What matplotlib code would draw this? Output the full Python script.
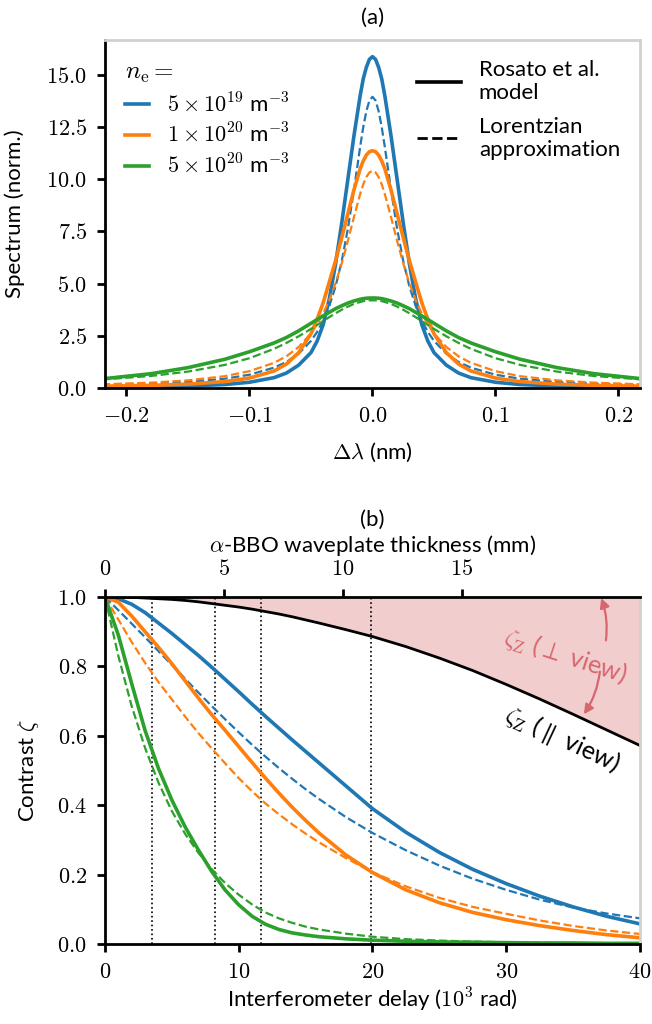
import matplotlib
matplotlib.use('Agg')
import matplotlib.pyplot as plt
from matplotlib.lines import Line2D
from matplotlib.ticker import FuncFormatter

# --- (a) line profiles ---
dlam = [-0.22, -0.18, -0.15, -0.12, -0.10, -0.08, -0.07, -0.06, -0.05, -0.045,
        -0.04, -0.035, -0.03, -0.025, -0.02, -0.015, -0.01, -0.0075, -0.005,
        -0.0025, 0.0, 0.0025, 0.005, 0.0075, 0.01, 0.015, 0.02, 0.025, 0.03,
        0.035, 0.04, 0.045, 0.05, 0.06, 0.07, 0.08, 0.10, 0.12, 0.15, 0.18, 0.22]

blue_model = [0.04, 0.06, 0.10, 0.17, 0.28, 0.50, 0.72, 1.10, 1.70, 2.25,
              3.05, 4.30, 5.95, 7.90, 10.0, 12.1, 14.0, 14.8, 15.35, 15.73,
              15.86,
              15.73, 15.35, 14.8, 14.0, 12.1, 10.0, 7.90, 5.95, 4.30, 3.05,
              2.25, 1.70, 1.10, 0.72, 0.50, 0.28, 0.17, 0.10, 0.06, 0.04]
blue_lor = [0.14, 0.21, 0.29, 0.45, 0.64, 0.98, 1.25, 1.65, 2.26, 2.69,
            3.24, 3.95, 4.87, 6.08, 7.63, 9.52, 11.55, 12.49, 13.25, 13.76,
            13.94,
            13.76, 13.25, 12.49, 11.55, 9.52, 7.63, 6.08, 4.87, 3.95, 3.24,
            2.69, 2.26, 1.65, 1.25, 0.98, 0.64, 0.45, 0.29, 0.21, 0.14]
orange_model = [0.09, 0.13, 0.19, 0.31, 0.48, 0.82, 1.15, 1.70, 2.60, 3.30,
                4.10, 5.10, 6.10, 7.20, 8.35, 9.50, 10.5, 10.87, 11.15, 11.31,
                11.36,
                11.31, 11.15, 10.87, 10.5, 9.50, 8.35, 7.20, 6.10, 5.10, 4.10,
                3.30, 2.60, 1.70, 1.15, 0.82, 0.48, 0.31, 0.19, 0.13, 0.09]
orange_lor = [0.18, 0.26, 0.37, 0.57, 0.81, 1.21, 1.52, 1.97, 2.62, 3.05,
              3.58, 4.23, 5.02, 5.97, 7.05, 8.20, 9.29, 9.75, 10.10, 10.32,
              10.40,
              10.32, 10.10, 9.75, 9.29, 8.20, 7.05, 5.97, 5.02, 4.23, 3.58,
              3.05, 2.62, 1.97, 1.52, 1.21, 0.81, 0.57, 0.37, 0.26, 0.18]
green_model = [0.44, 0.69, 0.98, 1.38, 1.74, 2.16, 2.42, 2.74, 3.10, 3.28,
               3.46, 3.63, 3.80, 3.94, 4.07, 4.17, 4.25, 4.28, 4.30, 4.31,
               4.31,
               4.31, 4.30, 4.28, 4.25, 4.17, 4.07, 3.94, 3.80, 3.63, 3.46,
               3.28, 3.10, 2.74, 2.42, 2.16, 1.74, 1.38, 0.98, 0.69, 0.44]
green_lor = [0.41, 0.58, 0.79, 1.11, 1.43, 1.88, 2.16, 2.48, 2.83, 3.02,
             3.21, 3.40, 3.58, 3.75, 3.90, 4.03, 4.12, 4.16, 4.18, 4.20,
             4.20,
             4.20, 4.18, 4.16, 4.12, 4.03, 3.90, 3.75, 3.58, 3.40, 3.21,
             3.02, 2.83, 2.48, 2.16, 1.88, 1.43, 1.11, 0.79, 0.58, 0.41]

dens_labels = [r'$5\times10^{19}$ m$^{-3}$', r'$1\times10^{20}$ m$^{-3}$',
               r'$5\times10^{20}$ m$^{-3}$']

# --- (b) contrast vs delay (10^3 rad) ---
delay = [0, 1, 2, 3, 4, 5, 6, 7, 8, 9, 10, 11, 12, 13, 14, 15, 16, 18, 20,
         22.5, 25, 27.5, 30, 32.5, 35, 37.5, 40]
zeta_z = [1.0, 1.0, 0.999, 0.997, 0.995, 0.993, 0.990, 0.986, 0.981, 0.976,
          0.971, 0.965, 0.958, 0.951, 0.943, 0.934, 0.925, 0.906, 0.886,
          0.857, 0.824, 0.788, 0.748, 0.706, 0.662, 0.617, 0.572]
blue_c = [1.0, 0.995, 0.979, 0.955, 0.925, 0.895, 0.863, 0.831, 0.797, 0.762,
          0.727, 0.691, 0.656, 0.622, 0.588, 0.555, 0.522, 0.456, 0.39,
          0.322, 0.264, 0.215, 0.174, 0.138, 0.107, 0.08, 0.058]
blue_c_lor = [1.0, 0.962, 0.923, 0.884, 0.844, 0.804, 0.764, 0.724, 0.685,
              0.647, 0.61, 0.574, 0.54, 0.507, 0.476, 0.446, 0.418, 0.366,
              0.32, 0.27, 0.226, 0.188, 0.156, 0.128, 0.105, 0.088, 0.074]
orange_c = [1.0, 0.985, 0.945, 0.90, 0.855, 0.808, 0.758, 0.708, 0.66, 0.615,
            0.569, 0.523, 0.478, 0.435, 0.394, 0.356, 0.32, 0.257, 0.206,
            0.156, 0.119, 0.091, 0.07, 0.053, 0.039, 0.027, 0.018]
orange_c_lor = [1.0, 0.935, 0.87, 0.81, 0.755, 0.705, 0.655, 0.607, 0.563,
                0.52, 0.478, 0.44, 0.405, 0.374, 0.345, 0.318, 0.293, 0.248,
                0.207, 0.166, 0.133, 0.107, 0.087, 0.068, 0.052, 0.039, 0.029]
green_c = [1.0, 0.89, 0.75, 0.615, 0.506, 0.415, 0.337, 0.27, 0.208, 0.155,
           0.113, 0.08, 0.057, 0.042, 0.032, 0.026, 0.021, 0.015, 0.011,
           0.008, 0.006, 0.005, 0.004, 0.003, 0.003, 0.002, 0.002]
green_c_lor = [1.0, 0.83, 0.685, 0.565, 0.465, 0.383, 0.317, 0.262, 0.215,
               0.175, 0.142, 0.114, 0.091, 0.074, 0.061, 0.05, 0.042, 0.03,
               0.021, 0.014, 0.01, 0.007, 0.005, 0.004, 0.003, 0.002, 0.001]

chosen_delays = [3.48, 8.23, 11.66, 19.87]
thick_at_max_delay = 22.5   # mm of alpha-BBO for 40e3 rad

plt.rcParams['font.family'] = ['Lato', 'DejaVu Sans']
plt.rcParams['mathtext.fontset'] = 'cm'
plt.rcParams['font.size'] = 8
plt.rcParams['xtick.major.size'] = 3
plt.rcParams['ytick.major.size'] = 3
plt.rcParams['xtick.major.width'] = 1.0
plt.rcParams['ytick.major.width'] = 1.0
plt.rcParams['axes.linewidth'] = 1.0

red = '#d6676d'
grey = '0.82'

fmt1 = FuncFormatter(lambda v, p: r'$%.1f$' % v)
fmt0 = FuncFormatter(lambda v, p: r'$%d$' % round(v))

fig = plt.figure(figsize=(3.26, 5.12), dpi=200)
ax1 = fig.add_axes([0.161, 0.621, 0.8206, 0.3398])
ax2 = fig.add_axes([0.161, 0.0781, 0.8206, 0.3389])

# ---------------- (a)
ax1.plot(dlam, blue_model, color='C0', lw=1.3)
ax1.plot(dlam, blue_lor, color='C0', lw=0.8, ls='--')
ax1.plot(dlam, orange_model, color='C1', lw=1.3)
ax1.plot(dlam, orange_lor, color='C1', lw=0.8, ls='--')
ax1.plot(dlam, green_model, color='C2', lw=1.3)
ax1.plot(dlam, green_lor, color='C2', lw=0.8, ls='--')
ax1.set_xlim(-0.2175, 0.2175)
ax1.set_ylim(0, 16.65)
ax1.set_xticks([-0.2, -0.1, 0.0, 0.1, 0.2])
ax1.set_yticks([0, 2.5, 5, 7.5, 10, 12.5, 15])
ax1.xaxis.set_major_formatter(fmt1)
ax1.yaxis.set_major_formatter(fmt1)
ax1.set_xlabel(r'$\Delta\lambda$ (nm)')
ax1.set_ylabel('Spectrum (norm.)')
ax1.yaxis.set_label_coords(-0.15, 0.5)
ax1.xaxis.set_label_coords(0.5, -0.15)
ax1.spines['top'].set_color(grey)
ax1.spines['right'].set_color(grey)

h1 = [Line2D([], [], color=c, lw=1.3) for c in ['C0', 'C1', 'C2']]
leg1 = ax1.legend(h1, dens_labels, loc='upper left', frameon=False,
                  title=r'$n_\mathrm{e} =$', alignment='left',
                  handlelength=1.1, labelspacing=0.3, fontsize=8,
                  title_fontsize=9)
ax1.add_artist(leg1)
h2 = [Line2D([], [], color='k', lw=1.3), Line2D([], [], color='k', lw=1.0, ls='--')]
ax1.legend(h2, ['Rosato et al.\nmodel', 'Lorentzian\napproximation'],
           loc='upper right', frameon=False, handlelength=2.0,
           labelspacing=0.6, fontsize=8)
fig.text(0.5715, 0.983, '(a)', ha='center', va='center')

# ---------------- (b)
ax2.fill_between(delay, zeta_z, 1.0, color='#f2cdce', lw=0)
ax2.plot(delay, zeta_z, color='k', lw=1.0)
for d in chosen_delays:
    ax2.axvline(d, color='k', lw=0.6, ls=':')
ax2.plot(delay, blue_c, color='C0', lw=1.3)
ax2.plot(delay, blue_c_lor, color='C0', lw=0.8, ls='--')
ax2.plot(delay, orange_c, color='C1', lw=1.3)
ax2.plot(delay, orange_c_lor, color='C1', lw=0.8, ls='--')
ax2.plot(delay, green_c, color='C2', lw=1.3)
ax2.plot(delay, green_c_lor, color='C2', lw=0.8, ls='--')
ax2.set_xlim(0, 40)
ax2.set_ylim(0, 1.0)
ax2.set_xticks([0, 10, 20, 30, 40])
ax2.set_yticks([0, 0.2, 0.4, 0.6, 0.8, 1.0])
ax2.xaxis.set_major_formatter(fmt0)
ax2.yaxis.set_major_formatter(fmt1)
ax2.set_xlabel(r'Interferometer delay ($10^3$ rad)')
ax2.set_ylabel(r'Contrast $\zeta$')
ax2.yaxis.set_label_coords(-0.12, 0.5)
ax2.xaxis.set_label_coords(0.5, -0.12)
ax2.spines['top'].set_visible(False)
ax2.spines['right'].set_color(grey)

ax2.text(34.4, 0.83, r'$\zeta_\mathrm{Z}$ ($\perp$ view)', color=red,
         rotation=-18, ha='center', va='center', rotation_mode='anchor',
         fontsize=9)
ax2.text(34.2, 0.59, r'$\zeta_\mathrm{Z}$ ($\parallel$ view)', color='k',
         rotation=-25, ha='center', va='center', rotation_mode='anchor',
         fontsize=9)
arr = dict(arrowstyle='-|>', color=red, lw=0.8, mutation_scale=7,
           shrinkA=0, shrinkB=0)
ax2.annotate('', xy=(37.1, 0.997), xytext=(37.45, 0.875),
             arrowprops=dict(arr, connectionstyle='arc3,rad=0.12'))
ax2.annotate('', xy=(35.8, 0.662), xytext=(37.0, 0.785),
             arrowprops=dict(arr, connectionstyle='arc3,rad=-0.12'))

axt = ax2.twiny()
axt.set_xlim(0, thick_at_max_delay)
axt.set_xticks([0, 5, 10, 15])
axt.xaxis.set_major_formatter(fmt0)
axt.set_xlabel(r'$\alpha$-BBO waveplate thickness (mm)')
axt.xaxis.set_label_coords(0.5, 1.13)
for s in ['left', 'right', 'bottom']:
    axt.spines[s].set_visible(False)
fig.text(0.5715, 0.492, '(b)', ha='center', va='center')

fig.savefig('out.png', dpi=200)
